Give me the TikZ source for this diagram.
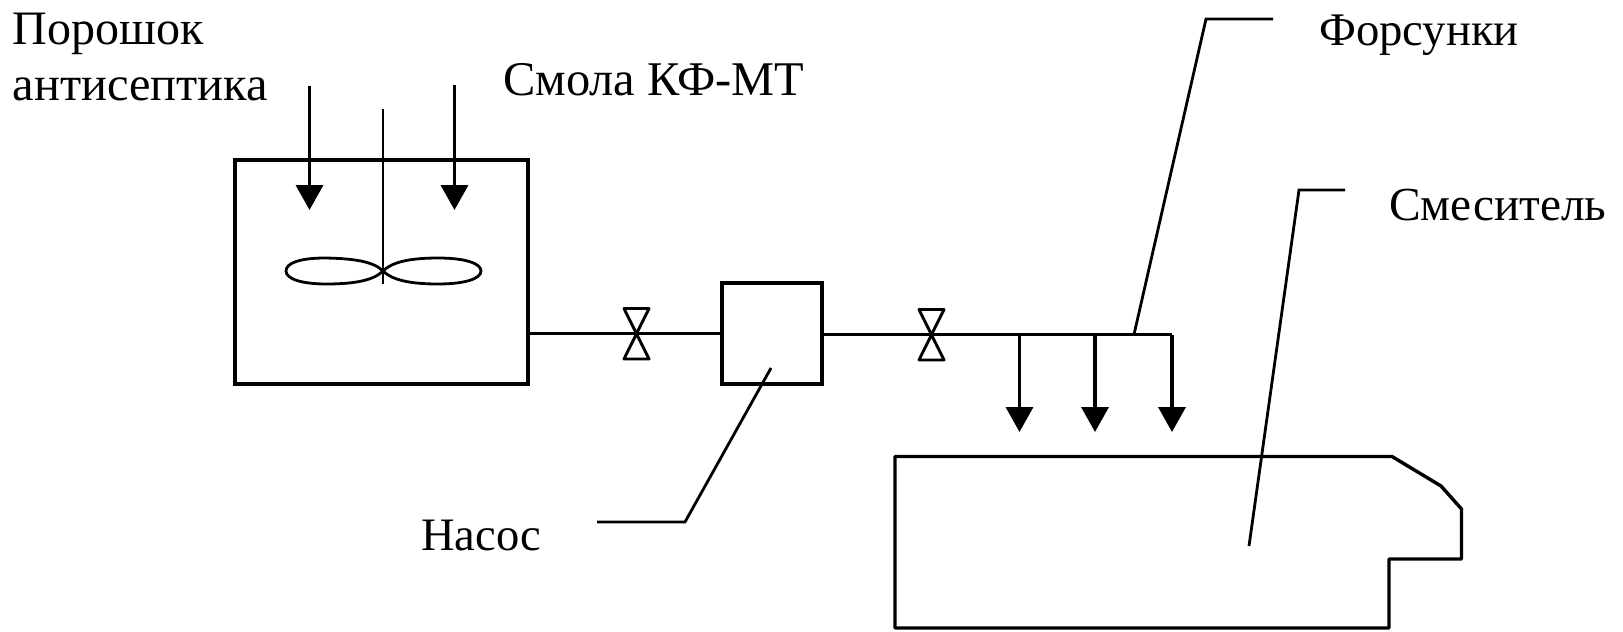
\documentclass[tikz,border=0pt]{standalone}
\usepackage{fontspec}
\setmainfont{Liberation Serif}
\usetikzlibrary{arrows.meta}
\tikzset{
  lbl/.style={anchor=base west,inner sep=0pt,font=\fontsize{#1}{#1}\selectfont,text=black},
  ln/.style={draw=black,line width=3.4pt},
  thin ln/.style={draw=black,line width=2.8pt},
  flow/.style={draw=black,line width=3.6pt,-{Triangle[length=25pt,width=27pt]}},
  valve/.style={draw=black,line width=2.9pt,line join=round}
}
\begin{document}
\begin{tikzpicture}[x=1pt,y=-1pt]
\useasboundingbox[fill=white] (0,0) rectangle (1623,632);
% labels
\node[lbl=48] (powder) at (12.5,44) {Порошок};
\node[lbl=48.4] (antis) at (12.5,100.5) {антисептика};
\node[lbl=48.4] (resin) at (503,95) {Смола КФ-МТ};
\node[lbl=46.7] (forsunki) at (1319,45) {Форсунки};
\node[lbl=47.4] (mixerlabel) at (1389,220) {Смеситель};
\node[lbl=46.5] (pumplabel) at (421,550) {Насос};
% tank and pump
\node[ln,rectangle,inner sep=0pt,minimum width=293pt,minimum height=224pt] (tank) at (381.5,272) {};
\node[ln,rectangle,inner sep=0pt,minimum width=100pt,minimum height=101pt] (pump) at (772,333.5) {};
% feed arrows
\coordinate (feedA) at (309.5,86);
\coordinate (feedAend) at (309.5,210);
\coordinate (feedB) at (454.5,85);
\coordinate (feedBend) at (454.5,210);
\draw[flow] (feedA) -- (feedAend);
\draw[flow] (feedB) -- (feedBend);
% stirrer
\coordinate (shafttop) at (383,109);
\coordinate (shaftend) at (383,284);
\coordinate (hub) at (383,271);
\coordinate (bladeL) at (286,271);
\coordinate (bladeR) at (481,271);
\draw[thin ln] (shafttop) -- (shaftend);
\draw[thin ln] (hub) .. controls (374,262) and (356,258.5) .. (325,258) .. controls (300,258) and (286,263) .. (bladeL) .. controls (286,279) and (302,284) .. (326,284) .. controls (356,284) and (374,280) .. (hub);
\draw[thin ln] (hub) .. controls (392,262) and (410,258) .. (438,258) .. controls (464,258) and (481,263) .. (bladeR) .. controls (481,279) and (464,284) .. (438,284) .. controls (410,284) and (392,280) .. (hub);
% pipe 1
\coordinate (valveA) at (636.5,333.5);
\draw[ln] (tank.east |- valveA) -- (pump.west |- valveA);
\draw[valve] (624,308.5) -- (649,308.5) -- (624,359) -- (649,359) -- cycle;
% pipe 2
\coordinate (valveB) at (931.5,334.5);
\coordinate (pipeend) at (1172,334.5);
\draw[ln] (pump.east |- valveB) -- (pipeend);
\draw[valve] (919,309.5) -- (944,309.5) -- (919,360) -- (944,360) -- cycle;
% nozzles
\coordinate (n1) at (1019.5,334.5);
\coordinate (n1end) at (1019.5,432);
\coordinate (n2) at (1095,334.5);
\coordinate (n2end) at (1095,432);
\coordinate (n3end) at (1172,432);
\draw[flow] (n1) -- (n1end);
\draw[flow] (n2) -- (n2end);
\draw[flow] (pipeend) -- (n3end);
% mixer
\draw[ln,line join=round] (895,456.5) -- (1392,456.5) -- (1441,486) -- (1461.5,509) -- (1461.5,559) -- (1389,559) -- (1389,628) -- (895,628) -- cycle;
% leaders
\coordinate (lf0) at (1134,334.5);
\coordinate (lf1) at (1206,19);
\coordinate (lf2) at (1273,19);
\draw[thin ln] (lf0) -- (lf1) -- (lf2);
\coordinate (lm0) at (1249,546);
\coordinate (lm1) at (1299,190);
\coordinate (lm2) at (1345,190);
\draw[thin ln] (lm0) -- (lm1) -- (lm2);
\coordinate (lp0) at (771,368);
\coordinate (lp1) at (685,522);
\coordinate (lp2) at (597,522);
\draw[thin ln] (lp0) -- (lp1) -- (lp2);
\end{tikzpicture}
\end{document}
